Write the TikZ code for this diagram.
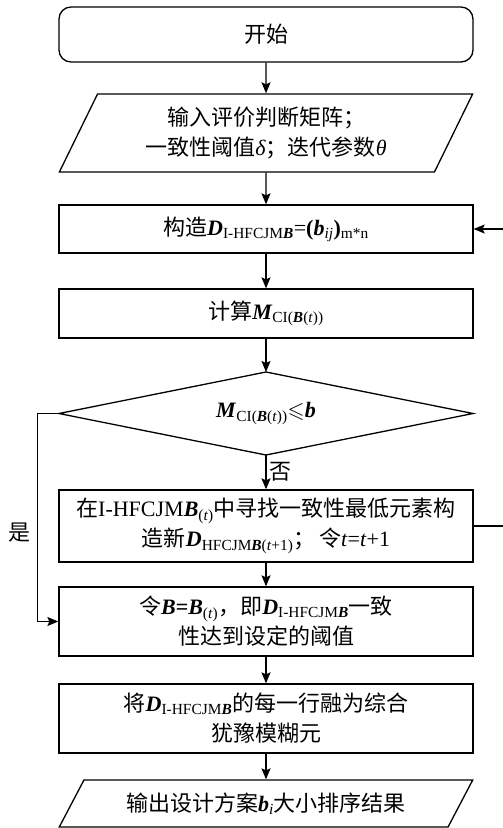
\documentclass[tikz,border=0pt]{standalone}
\usepackage{fontspec}
\usepackage{amssymb}
\setmainfont{Liberation Serif}
\newfontfamily\cjk{Noto Sans CJK SC}
\usetikzlibrary{shapes.geometric,arrows.meta}
\newcommand\zh[1]{{\cjk #1}}
\newcommand\bit[1]{\textbf{\textit{#1}}}
\newcommand\lsub[1]{\textsubscript{#1}}
\begin{document}
\begin{tikzpicture}[x=1pt,y=-1pt,
  every node/.style={font=\fontsize{22}{30}\selectfont, align=center},
  box/.style={draw, line width=1.3pt, minimum width=414pt, inner sep=0pt},
  io/.style={draw, line width=1.3pt, trapezium, trapezium stretches=true, minimum width=414pt, inner sep=0pt},
  arr/.style={line width=1.3pt, -{Stealth[length=11pt,width=9pt,inset=2pt]}},
  lbl/.style={font=\fontsize{22}{30}\selectfont\cjk}]
\useasboundingbox (0,0) rectangle (503,828);

\node[box, rounded corners=12pt, minimum height=55pt] (start) at (266,34.5) {\zh{开始}};
\node[io, trapezium left angle=62.3, trapezium right angle=117.7, minimum height=78pt] (in) at (266,133)
  {\zh{输入评价判断矩阵；}\\\zh{一致性阈值}\textit{δ}\zh{；迭代参数}\textit{θ}};
\node[box, minimum height=48pt] (b2) at (266,229)
  {\zh{构造}\bit{D}\lsub{I-HFCJM\bit{B}}=\textbf{(}\bit{b}\lsub{\textit{ij}}\textbf{)}\lsub{m*n}};
\node[box, minimum height=49pt] (b3) at (266,313.5)
  {\zh{计算}\bit{M}\lsub{CI(\bit{B}(\textit{t}))}};

\coordinate (dt) at (266,372);
\coordinate (dr) at (473,413.5);
\coordinate (db) at (266,455);
\coordinate (dl) at (59,413.5);
\draw[line width=1.3pt] (dt) -- (dr) -- (db) -- (dl) -- cycle;
\node (dec) at (266,413.5) {\bit{M}\lsub{CI(\bit{B}(\textit{t}))}$\leqslant$\bit{b}};

\node[box, minimum height=72pt] (b4) at (266,526)
  {\zh{在}I-HFCJM\bit{B}\lsub{(\textit{t})}\zh{中寻找一致性最低元素构}\\
   \zh{造新}\bit{D}\lsub{HFCJM\bit{B}(\textit{t}+1)}\zh{；}\,\zh{令}\textit{t}=\textit{t}+1};
\node[box, minimum height=69pt] (b5) at (266,621.5)
  {\zh{令}\bit{B}\textbf{=}\bit{B}\lsub{(\textit{t})}\zh{，即}\bit{D}\lsub{I-HFCJM\bit{B}}\zh{一致}\\
   \zh{性达到设定的阈值}};
\node[box, minimum height=69pt] (b6) at (266,718.5)
  {\zh{将}\bit{D}\lsub{I-HFCJM\bit{B}}\zh{的每一行融为综合}\\\zh{犹豫模糊元}};
\node[io, trapezium left angle=48.9, trapezium right angle=131.1, minimum height=47pt] (out) at (266,803.5)
  {\zh{输出设计方案}\bit{b}\lsub{\textit{i}}\zh{大小排序结果}};

\draw[arr] (start) -- (in);
\draw[arr] (in) -- (b2);
\draw[arr] (b2) -- (b3);
\draw[arr] (b3) -- (dt);
\draw[arr] (db) -- node[lbl, right] {否} (b4);
\draw[arr] (b4) -- (b5);
\draw[arr] (b5) -- (b6);
\draw[arr] (b6) -- (out);

\coordinate (rr) at (508,229);
\draw[arr] (b4.east) -| (rr) -- (b2.east);
\coordinate (ll) at (37.5,413.5);
\draw[arr] (dl) -- (ll) |- (b5.west);
\node[lbl] (yes) at (20,533) {是};
\end{tikzpicture}
\end{document}
